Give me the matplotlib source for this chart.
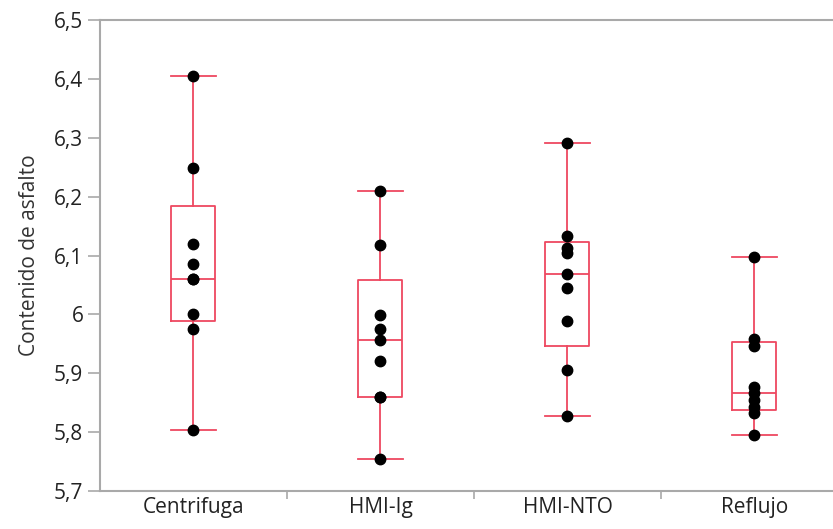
import numpy as np
import matplotlib.pyplot as plt
from matplotlib.ticker import FuncFormatter

# Datos por método
metodos = ['Centrifuga', 'HMI-Ig', 'HMI-NTO', 'Reflujo']
centrifuga = [5.803, 5.976, 6.000, 6.060, 6.060, 6.085, 6.120, 6.248, 6.405]
hmi_ig = [5.755, 5.859, 5.859, 5.921, 5.957, 5.975, 5.999, 6.118, 6.210]
hmi_nto = [5.827, 5.905, 5.989, 6.045, 6.069, 6.105, 6.112, 6.133, 6.291]
reflujo = [5.795, 5.832, 5.842, 5.855, 5.866, 5.877, 5.947, 5.959, 6.098]
datos = [centrifuga, hmi_ig, hmi_nto, reflujo]

rojo = '#ee4860'
gris = '#a9a9a9'

plt.rcParams['font.family'] = ['Open Sans', 'DejaVu Sans']

fig = plt.figure(figsize=(8.33, 5.29), dpi=100)
ax = fig.add_axes([0.12, 0.0718, 0.88, 0.8904])

# estadisticos tipo JMP (cuartiles (n+1)p), bigotes = min/max
stats = []
for d in datos:
    d = np.array(d)
    q1, med, q3 = np.percentile(d, [25, 50, 75], method='weibull')
    stats.append({'med': med, 'q1': q1, 'q3': q3,
                  'whislo': d.min(), 'whishi': d.max(), 'fliers': []})

props = dict(color=rojo, linewidth=1.3)
ax.bxp(stats, positions=range(len(datos)), widths=0.235, showfliers=False,
       boxprops=props, whiskerprops=props, capprops=props, medianprops=props,
       capwidths=0.24)

for i, d in enumerate(datos):
    ax.plot([i] * len(d), d, 'o', color='black', markersize=7.5, zorder=5)

ax.set_ylim(5.7, 6.5)
ax.set_xlim(-0.5, 3.42)
ax.set_yticks(np.arange(5.7, 6.51, 0.1))
ax.yaxis.set_major_formatter(FuncFormatter(lambda v, p: f'{v:.1f}'.rstrip('0').rstrip('.').replace('.', ',')))

ax.set_xticks(range(len(metodos)))
ax.set_xticklabels(metodos, fontsize=15, color='#222222')
ax.tick_params(axis='x', which='major', length=0, pad=4)
ax.set_xticks([0.5, 1.5, 2.5], minor=True)
ax.tick_params(axis='x', which='minor', length=6, color=gris, width=1.2)
ax.tick_params(axis='y', length=9, color=gris, width=1.2, labelsize=15,
               labelcolor='#222222', pad=3)

for lado in ['left', 'bottom', 'top']:
    ax.spines[lado].set_color(gris)
    ax.spines[lado].set_linewidth(1.5)
ax.spines['right'].set_visible(False)

ax.set_ylabel('Contenido de asfalto', fontsize=15, color='#333333', labelpad=10)

plt.savefig('out.png', dpi=100)
